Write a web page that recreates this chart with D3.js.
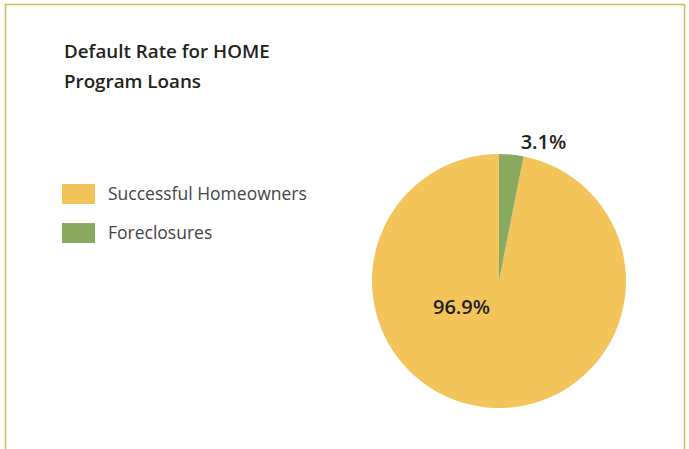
<!DOCTYPE html>
<html><head><meta charset="utf-8">
<script src="https://cdn.jsdelivr.net/npm/d3@7"></script>
<style>html,body{margin:0;padding:0;background:#fff;}</style>
</head><body>
<svg id="c" width="689" height="449"></svg>
<script>
const categories = ["Successful Homeowners", "Foreclosures"];
const values = [96.9, 3.1];
const labels = ["96.9%", "3.1%"];
const colors = ["#F2C45A", "#88A95E"];
const titleLines = ["Default Rate for HOME", "Program Loans"];

const svg = d3.select("#c");
svg.append("path").attr("d","M5.5,449 V4.5 H684.5 V449")
  .attr("fill","none").attr("stroke","#CDBF4E").attr("stroke-width",1.5);

const font = "'Open Sans', 'Noto Sans', sans-serif";
svg.selectAll("text.title").data(titleLines).enter().append("text")
  .attr("x",64).attr("y",(d,i)=>58+i*30).text(d=>d)
  .attr("font-family",font).attr("font-size",18.8).attr("font-weight",600).attr("fill","#231f20");

const leg = svg.selectAll("g.leg").data(categories).enter().append("g")
  .attr("transform",(d,i)=>`translate(62,${184+i*39})`);
leg.append("rect").attr("width",33).attr("height",20).attr("fill",(d,i)=>colors[i]);
leg.append("text").attr("x",46).attr("y",16).text(d=>d)
  .attr("font-family",font).attr("font-size",17.5).attr("fill","#444");

const cx=499, cy=281, r=127;
const pie = d3.pie().sort(null).startAngle(2*Math.PI).endAngle(0).value(d=>d);
const arcs = pie(values);
const arc = d3.arc().innerRadius(0).outerRadius(r);
const g = svg.append("g").attr("transform",`translate(${cx},${cy})`);
g.selectAll("path").data(arcs).enter().append("path")
  .attr("d",arc).attr("fill",(d,i)=>colors[i]);

svg.append("text").attr("x",461.5).attr("y",314).attr("text-anchor","middle").text(labels[0])
  .attr("font-family",font).attr("font-size",20).attr("font-weight",600).attr("fill","#231f20");
svg.append("text").attr("x",543.5).attr("y",149).attr("text-anchor","middle").text(labels[1])
  .attr("font-family",font).attr("font-size",20).attr("font-weight",600).attr("fill","#231f20");
</script>
</body></html>
